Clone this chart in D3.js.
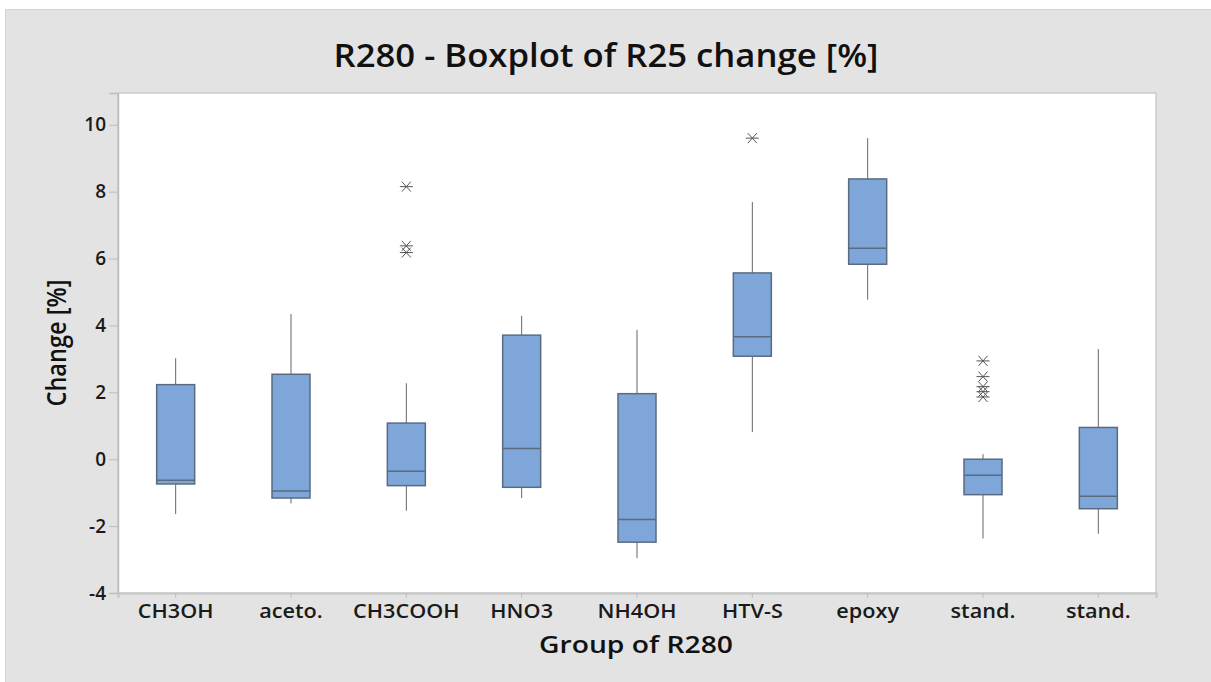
<!DOCTYPE html>
<html>
<head>
<meta charset="utf-8">
<script src="https://cdn.jsdelivr.net/npm/d3@7"></script>
<style>
  body { margin: 0; background: #ffffff; }
  text { font-family: "Open Sans", "Noto Sans", sans-serif; }
</style>
</head>
<body>
<svg id="chart" width="1211" height="682"></svg>
<script>
// Groups and the five-number summaries of R25 change [%]
const groups = ["CH3OH", "aceto.", "CH3COOH", "HNO3", "NH4OH", "HTV-S", "epoxy", "stand.", "stand."];
const whiskerLow  = [-1.64, -1.32, -1.54, -1.16, -2.96, 0.81, 4.77, -2.37, -2.23];
const q1          = [-0.74, -1.16, -0.79, -0.84, -2.48, 3.08, 5.83, -1.06, -1.48];
const median      = [-0.63, -0.95, -0.36,  0.32, -1.80, 3.66, 6.31, -0.48, -1.11];
const q3          = [ 2.23,  2.54,  1.08,  3.71,  1.96, 5.57, 8.38,  0.00,  0.95];
const whiskerHigh = [ 3.02,  4.34,  2.27,  4.29,  3.87, 7.69, 9.60,  0.15,  3.29];
const outliers    = [[], [], [8.15, 6.38, 6.18], [], [], [9.60], [], [2.94, 2.47, 2.17, 2.02, 1.86], []];
const yTicks = [-4, -2, 0, 2, 4, 6, 8, 10];

const svg = d3.select("#chart");
const plot = { left: 118, top: 93, right: 1156, bottom: 593 };

// Outer panel
svg.append("rect")
  .attr("x", 5.5).attr("y", 9.5).attr("width", 1210).attr("height", 680)
  .attr("fill", "#e3e3e3").attr("stroke", "#d3d3d3");

// Plot area
svg.append("rect")
  .attr("x", plot.left).attr("y", plot.top)
  .attr("width", plot.right - plot.left).attr("height", plot.bottom - plot.top)
  .attr("fill", "#ffffff").attr("stroke", "#b9b9b9");

const y = d3.scaleLinear().domain([-4, 10.95]).range([plot.bottom, plot.top]);
const x = d3.scaleBand().domain(d3.range(groups.length)).range([plot.left, plot.right]).padding(0);
const boxW = 38;
const cx = i => x(i) + x.bandwidth() / 2;

// Y axis (plain hyphen for negative labels)
const yAxis = svg.append("g")
  .attr("transform", `translate(${plot.left},0)`)
  .call(d3.axisLeft(y).tickValues(yTicks).tickSize(9).tickPadding(3).tickFormat(d => String(d)));
yAxis.select(".domain").attr("stroke", "#bdbdbd").attr("stroke-width", 1.5);
yAxis.selectAll(".tick line").attr("stroke", "#bdbdbd");
yAxis.selectAll(".tick text")
  .attr("font-size", 19).attr("font-weight", 600).attr("fill", "#1a1a1a")
  .style("font-family", "'Open Sans', sans-serif");

// X axis
const xAxis = svg.append("g")
  .attr("transform", `translate(0,${plot.bottom})`)
  .call(d3.axisBottom(x).tickSize(5).tickPadding(7).tickFormat(i => groups[i]));
xAxis.select(".domain").attr("stroke", "#c6c6c6").attr("stroke-width", 2);
xAxis.selectAll(".tick line").attr("stroke", "#bdbdbd");
xAxis.selectAll(".tick text")
  .attr("font-size", 19).attr("font-weight", 600).attr("fill", "#1a1a1a")
  .style("font-family", "'Open Sans', sans-serif")
  .each(function () {
    const w = this.getComputedTextLength();
    d3.select(this).attr("textLength", w * 1.14).attr("lengthAdjust", "spacingAndGlyphs");
  });

// Boxes
const g = svg.append("g");
groups.forEach((name, i) => {
  const c = cx(i);
  g.append("line")
    .attr("x1", c).attr("x2", c)
    .attr("y1", y(whiskerHigh[i])).attr("y2", y(q3[i]))
    .attr("stroke", "#666666").attr("stroke-width", 1);
  g.append("line")
    .attr("x1", c).attr("x2", c)
    .attr("y1", y(q1[i])).attr("y2", y(whiskerLow[i]))
    .attr("stroke", "#666666").attr("stroke-width", 1);
  g.append("rect")
    .attr("x", c - boxW / 2).attr("y", y(q3[i]))
    .attr("width", boxW).attr("height", y(q1[i]) - y(q3[i]))
    .attr("fill", "#7ea6d9").attr("stroke", "#5a6b80").attr("stroke-width", 1.5);
  g.append("line")
    .attr("x1", c - boxW / 2).attr("x2", c + boxW / 2)
    .attr("y1", y(median[i])).attr("y2", y(median[i]))
    .attr("stroke", "#5a6b80").attr("stroke-width", 1.5);
  // Outliers drawn as asterisks
  g.selectAll(null).data(outliers[i]).enter().append("path")
    .attr("transform", d => `translate(${c},${y(d)})`)
    .attr("d", "M-6.5,0H6.5M-4.5,-5L4.5,5M-4.5,5L4.5,-5")
    .attr("fill", "none").attr("stroke", "#555555").attr("stroke-width", 1);
});

// Titles
svg.append("text")
  .attr("x", 606).attr("y", 67).attr("text-anchor", "middle")
  .attr("font-size", 32).attr("font-weight", 600).attr("fill", "#111111")
  .attr("textLength", 545).attr("lengthAdjust", "spacingAndGlyphs")
  .text("R280 - Boxplot of R25 change [%]");

svg.append("text")
  .attr("x", 636).attr("y", 653).attr("text-anchor", "middle")
  .attr("font-size", 23).attr("font-weight", 600).attr("fill", "#111111")
  .attr("textLength", 194).attr("lengthAdjust", "spacingAndGlyphs")
  .text("Group of R280");

svg.append("text")
  .attr("transform", "translate(66,343) rotate(-90)").attr("text-anchor", "middle")
  .attr("font-size", 27).attr("font-weight", 600).attr("fill", "#111111")
  .attr("textLength", 127).attr("lengthAdjust", "spacingAndGlyphs")
  .text("Change [%]");
</script>
</body>
</html>
